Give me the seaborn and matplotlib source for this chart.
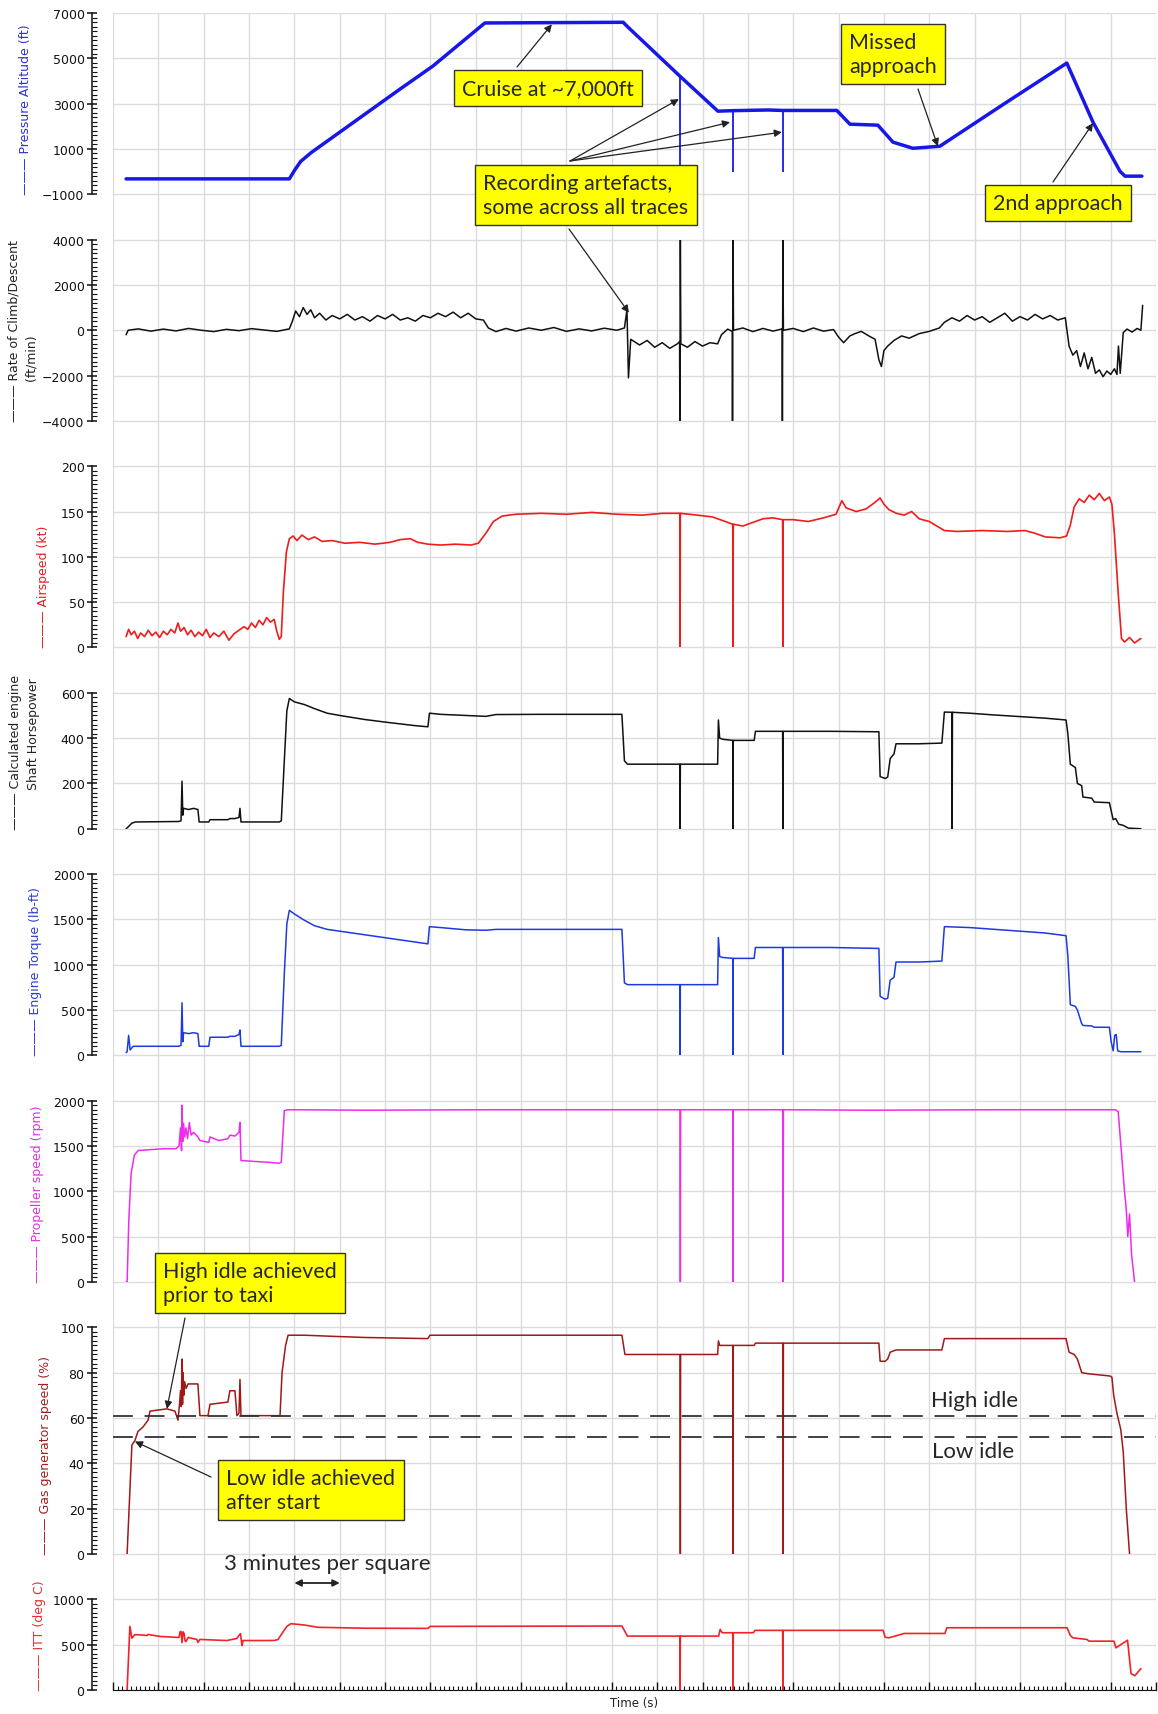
import numpy as np
import pandas as pd
import matplotlib
matplotlib.use("Agg")
import matplotlib.pyplot as plt
from matplotlib.ticker import AutoMinorLocator
import seaborn as sns

# Flight data traces, (time s, value)
altitude = [(52, -320), (700, -320), (723, 100), (745, 450), (788, 850), (1139, 3640), (1270, 4660),
            (1476, 6560), (2025, 6590), (2040, 6420), (2250, 4215), (2401, 2668),
            (2460, 2690), (2600, 2720), (2658, 2700),
            (2873, 2700), (2925, 2094), (3036, 2050), (3096, 1300), (3175, 1030), (3282, 1120),
            (3548, 3070), (3786, 4790), (3890, 2180), (3997, 17), (4017, -200), (4084, -200)]
# recording artefacts on the altitude trace: (time, bottom, top)
altitude_artefacts = [(2251, 0, 4215), (2460, 0, 2690), (2659, 0, 2700)]

climb_rate = [(52, -200), (60, 0), (100, 60), (150, -40), (200, 50), (250, -30), (300, 80), (350, 0),
              (400, -60), (450, 40), (500, -20), (550, 70), (600, 10), (650, -50), (700, 60),
              (712, 400), (725, 850), (740, 600), (755, 1000), (770, 700), (785, 900), (800, 550),
              (820, 750), (845, 450), (870, 650), (900, 500), (930, 700), (960, 450), (990, 600),
              (1020, 400), (1050, 650), (1080, 500), (1110, 700), (1140, 450), (1170, 550), (1200, 400),
              (1230, 650), (1260, 550), (1290, 750), (1320, 600), (1350, 800), (1380, 550), (1410, 750),
              (1440, 500), (1470, 450), (1490, 100), (1520, -60), (1560, 80), (1600, -40), (1650, 100),
              (1700, 0), (1750, 120), (1800, -50), (1850, 60), (1900, -30), (1950, 90), (2000, 0),
              (2030, 100), (2040, 900), (2046, -2100), (2055, -400), (2090, -650), (2120, -450),
              (2150, -750), (2180, -550), (2210, -800), (2240, -600), (2249, -500), (2250, -4000),
              (2252, 4000), (2254, -600), (2280, -750), (2310, -500), (2340, -700), (2370, -550),
              (2400, -600), (2415, -200), (2440, 50), (2458, -50), (2459, -4000), (2461, 4000), (2463, 0),
              (2500, 100), (2540, -60), (2580, 80), (2620, -40), (2656, 60), (2657, -4000), (2659, 4000),
              (2661, 0), (2700, 80), (2740, -60), (2780, 100), (2820, -40), (2860, 30), (2880, -300),
              (2900, -550), (2925, -250), (2945, -150), (2970, -50), (3000, -250), (3025, -400),
              (3040, -1300), (3050, -1600), (3060, -900), (3075, -700), (3100, -450), (3130, -250),
              (3160, -350), (3200, -150), (3240, -50), (3280, 100), (3300, 350), (3330, 550), (3360, 400),
              (3390, 650), (3420, 450), (3450, 600), (3480, 350), (3510, 550), (3540, 750), (3570, 400),
              (3600, 600), (3630, 450), (3660, 700), (3690, 500), (3720, 650), (3750, 450), (3780, 550),
              (3795, -700), (3810, -1100), (3825, -900), (3840, -1600), (3855, -1000), (3870, -1700),
              (3885, -1200), (3900, -1900), (3915, -1750), (3930, -2050), (3945, -1800), (3960, -1950),
              (3975, -1700), (3985, -1950), (3991, -700), (3998, -1900), (4010, -100), (4025, 50),
              (4045, -80), (4065, 80), (4080, 0), (4087, 1100)]

airspeed = [(52, 12), (62, 20), (72, 14), (85, 18), (98, 10), (110, 16), (125, 12), (140, 19), (155, 13),
            (170, 17), (185, 11), (200, 18), (215, 14), (230, 20), (245, 16), (258, 27), (268, 18),
            (282, 22), (296, 14), (310, 19), (325, 12), (340, 17), (355, 13), (370, 20), (385, 11),
            (400, 16), (420, 12), (440, 18), (460, 8), (480, 15), (500, 19), (520, 23), (535, 20),
            (550, 27), (565, 22), (580, 30), (595, 25), (610, 33), (625, 28), (640, 31), (650, 18),
            (660, 9), (668, 12), (676, 60), (688, 105), (700, 120), (715, 123), (730, 118), (750, 124),
            (775, 119), (800, 122), (830, 117), (870, 118), (920, 115), (980, 116), (1040, 114),
            (1100, 116), (1140, 119), (1180, 120), (1210, 116), (1250, 114), (1300, 113), (1360, 114),
            (1420, 113), (1450, 115), (1480, 126), (1510, 139), (1545, 145), (1600, 147), (1700, 148),
            (1800, 147), (1900, 149), (2000, 147), (2100, 146), (2180, 148), (2250, 148), (2251, 0),
            (2252, 148), (2320, 146), (2380, 144), (2420, 140), (2460, 136), (2461, 0), (2462, 136),
            (2500, 134), (2540, 138), (2580, 142), (2620, 143), (2658, 141), (2659, 0), (2660, 141),
            (2700, 141), (2760, 139), (2820, 143), (2870, 147), (2893, 162), (2910, 154), (2950, 150),
            (2990, 153), (3024, 160), (3045, 165), (3060, 158), (3080, 152), (3110, 148), (3140, 146),
            (3170, 150), (3200, 142), (3240, 139), (3270, 134), (3300, 129), (3350, 128), (3450, 129),
            (3550, 128), (3620, 129), (3660, 126), (3700, 122), (3760, 121), (3785, 123), (3800, 135),
            (3815, 155), (3835, 164), (3855, 160), (3875, 168), (3895, 163), (3915, 170), (3935, 162),
            (3955, 166), (3965, 158), (3975, 125), (3990, 60), (4003, 10), (4015, 6), (4035, 11),
            (4055, 5), (4080, 10)]

shaft_hp = [(52, 0), (62, 10), (75, 25), (90, 30), (260, 32), (270, 35), (274, 210), (277, 60), (280, 90),
            (300, 85), (320, 90), (337, 85), (342, 30), (380, 30), (385, 40), (456, 40), (464, 45),
            (484, 45), (500, 50), (504, 90), (508, 30), (660, 30), (668, 35), (680, 300), (690, 520),
            (700, 575), (720, 560), (760, 548), (800, 530), (850, 510), (900, 500), (1000, 482),
            (1100, 468), (1200, 455), (1250, 450), (1256, 510), (1300, 505), (1400, 500), (1480, 496),
            (1520, 504), (1700, 505), (1900, 505), (2020, 505), (2030, 300), (2042, 285), (2250, 285),
            (2251, 0), (2252, 285), (2400, 285), (2403, 480), (2408, 400), (2420, 395), (2460, 390),
            (2461, 0), (2462, 390), (2545, 390), (2550, 430), (2658, 430), (2659, 0), (2660, 430),
            (2850, 430), (3040, 428), (3045, 230), (3065, 222), (3075, 228), (3085, 310), (3100, 330),
            (3108, 375), (3200, 375), (3290, 378), (3300, 515), (3330, 514), (3331, 0), (3332, 514),
            (3400, 510), (3500, 502), (3600, 495), (3700, 488), (3783, 480), (3790, 420), (3800, 285),
            (3820, 270), (3828, 200), (3845, 190), (3850, 140), (3885, 135), (3895, 118), (3955, 115),
            (3962, 80), (3970, 40), (3980, 45), (3992, 20), (4010, 15), (4030, 3), (4080, 0)]

torque = [(52, 30), (56, 40), (62, 220), (68, 60), (80, 100), (260, 100), (270, 110), (274, 580),
          (277, 150), (280, 250), (300, 240), (320, 250), (337, 240), (342, 100), (380, 100), (385, 200),
          (456, 200), (464, 210), (484, 210), (500, 230), (504, 280), (508, 100), (660, 100), (668, 110),
          (680, 900), (690, 1450), (700, 1600), (720, 1560), (760, 1490), (800, 1430), (850, 1390),
          (900, 1370), (1000, 1330), (1100, 1290), (1200, 1250), (1250, 1230), (1256, 1420), (1300, 1410),
          (1400, 1385), (1480, 1380), (1520, 1390), (1800, 1390), (2020, 1390), (2030, 800), (2042, 780),
          (2250, 780), (2251, 0), (2252, 780), (2400, 780), (2403, 1300), (2408, 1090), (2420, 1080),
          (2460, 1070), (2461, 0), (2462, 1070), (2545, 1070), (2550, 1190), (2658, 1190), (2659, 0),
          (2660, 1190), (2850, 1190), (3040, 1180), (3045, 650), (3065, 620), (3075, 630), (3085, 830),
          (3100, 860), (3108, 1030), (3200, 1030), (3290, 1040), (3300, 1420), (3400, 1410), (3500, 1390),
          (3600, 1370), (3700, 1350), (3783, 1320), (3790, 1100), (3800, 560), (3820, 540), (3828, 500),
          (3845, 350), (3850, 330), (3885, 325), (3895, 310), (3955, 310), (3962, 150), (3970, 50),
          (3976, 220), (3982, 230), (3988, 50), (4000, 40), (4080, 40)]

prop_rpm = [(52, 0), (56, 0), (63, 700), (72, 1200), (85, 1400), (100, 1450), (150, 1460), (200, 1470),
            (250, 1470), (262, 1500), (268, 1700), (272, 1450), (274, 1950), (277, 1550), (280, 1750),
            (285, 1600), (290, 1700), (296, 1580), (303, 1760), (310, 1620), (320, 1650), (337, 1600),
            (345, 1560), (380, 1540), (385, 1600), (420, 1560), (456, 1580), (464, 1620), (484, 1610),
            (500, 1650), (504, 1760), (508, 1340), (560, 1330), (620, 1320), (660, 1310), (668, 1320),
            (680, 1890), (695, 1900), (1000, 1895), (1500, 1900), (2000, 1900), (2251, 1900), (2252, 0),
            (2253, 1900), (2460, 1900), (2461, 0), (2462, 1900), (2659, 1900), (2660, 0), (2661, 1900),
            (3000, 1895), (3500, 1900), (3978, 1900), (3990, 1880), (4015, 1000), (4022, 800), (4028, 500),
            (4035, 750), (4043, 300), (4055, 0)]

gas_gen = [(56, 0), (75, 48), (87, 50), (99, 54), (119, 56), (139, 59), (147, 63), (214, 64), (246, 63),
           (258, 59), (264, 66), (268, 72), (271, 65), (274, 86), (276, 66), (278, 80), (281, 70), (284, 76),
           (290, 73), (298, 75), (337, 75), (345, 61), (377, 61), (385, 66), (456, 67), (464, 72), (484, 72),
           (492, 61), (500, 62), (504, 77), (508, 61), (663, 61), (671, 80), (685, 92), (695, 96.5),
           (760, 96.5), (873, 96), (1000, 95.5), (1250, 95), (1258, 96.5), (1500, 96.5), (2020, 96.5),
           (2032, 88), (2251, 88), (2252, 0), (2253, 88), (2400, 88), (2403, 94), (2408, 92), (2460, 92),
           (2461, 0), (2462, 92), (2545, 92), (2550, 93), (2659, 93), (2660, 0), (2661, 93), (3040, 93),
           (3045, 85), (3065, 85), (3075, 86), (3085, 89), (3108, 90), (3290, 90), (3300, 95), (3783, 95),
           (3795, 89), (3815, 88), (3828, 86), (3845, 80), (3870, 79.5), (3957, 78.5), (3965, 78),
           (3972, 70), (3985, 62), (4000, 55), (4010, 45), (4022, 20), (4035, 0)]

itt = [(56, 0), (67, 700), (75, 570), (87, 610), (135, 600), (139, 611), (187, 589), (258, 578), (262, 580),
       (266, 640), (270, 644), (274, 520), (278, 640), (282, 622), (286, 540), (290, 533), (298, 578),
       (333, 556), (337, 522), (345, 556), (452, 544), (492, 567), (500, 600), (506, 620), (512, 489),
       (516, 544), (583, 544), (640, 545), (655, 555), (668, 610), (690, 700), (706, 730), (760, 715),
       (813, 690), (1000, 680), (1250, 678), (1259, 700), (2020, 704), (2042, 593), (2250, 593), (2251, 0),
       (2252, 593), (2404, 593), (2410, 667), (2418, 630), (2460, 630), (2461, 0), (2462, 630), (2542, 630),
       (2548, 656), (2658, 656), (2659, 0), (2660, 656), (3057, 656), (3065, 580), (3080, 574), (3100, 590),
       (3127, 611), (3140, 622), (3302, 622), (3310, 685), (3787, 685), (3800, 600), (3810, 574),
       (3866, 556), (3874, 537), (3973, 537), (3981, 463), (4027, 548), (4041, 178), (4056, 156),
       (4080, 233)]

high_idle = 61
low_idle = 51.5

sns.set_style("white")
plt.rcParams["font.family"] = ["DejaVu Sans"]

W, H = 1158, 1715
X0, X1 = 113, 1156
Y0, SQ = 14, 45.32
T_END = 4140
ANN_FONT = "Lato"

fig = plt.figure(figsize=(W / 100, H / 100), dpi=100)


def px_rect(r0, r1):
    top = Y0 + SQ * r0
    bot = Y0 + SQ * r1
    return [X0 / W, 1 - bot / H, (X1 - X0) / W, (bot - top) / H]


# background grid, one square = 3 minutes
bg = fig.add_axes(px_rect(0, 37))
bg.set_xlim(0, T_END)
bg.set_ylim(0, 37)
bg.set_xticks(np.arange(0, T_END + 1, 180))
bg.set_yticks(np.arange(0, 38))
bg.grid(True, color="#dcdcdc", lw=1)
bg.tick_params(length=0, labelbottom=False, labelleft=False)
for s in bg.spines.values():
    s.set_visible(False)

panels = [
    # data, rows, ylim, step, colour, lw, label, label colour, label x (px)
    (altitude, (0, 4), (-1000, 7000), 2000, "#1717e8", 2.5, "——— Pressure Altitude (ft)", "#3030d0", 25),
    (climb_rate, (5, 9), (-4000, 4000), 2000, "#111111", 1.1, "——— Rate of Climb/Descent\n          (ft/min)", "#222222", 23),
    (airspeed, (10, 14), (0, 200), 50, "#f01c1c", 1.2, "——— Airspeed (kt)", "#e02020", 44),
    (shaft_hp, (15, 18), (0, 600), 200, "#111111", 1.1, "——— Calculated engine\n          Shaft Horsepower", "#222222", 25),
    (torque, (19, 23), (0, 2000), 500, "#1d3ae0", 1.1, "——— Engine Torque (lb-ft)", "#2a3fd0", 36),
    (prop_rpm, (24, 28), (0, 2000), 500, "#ee2cee", 1.1, "——— Propeller speed (rpm)", "#e030e0", 37),
    (gas_gen, (29, 34), (0, 100), 20, "#a01818", 1.1, "——— Gas generator speed (%)", "#a02020", 46),
    (itt, (35, 37), (0, 1000), 500, "#f02428", 1.2, "——— ITT (deg C)", "#e83030", 40),
]

axes = []
for data, (r0, r1), (lo, hi), step, color, lw, label, lcolor, lx in panels:
    ax = fig.add_axes(px_rect(r0, r1), facecolor="none")
    df = pd.DataFrame(data, columns=["t", "v"])
    sns.lineplot(data=df, x="t", y="v", ax=ax, color=color, lw=lw, estimator=None, sort=False)
    ax.set_xlim(0, T_END)
    ax.set_ylim(lo, hi)
    ax.set_yticks(np.arange(lo, hi + step / 2, step))
    ax.yaxis.set_minor_locator(AutoMinorLocator(10))
    ax.set_xticks([])
    for s in ("top", "right", "bottom"):
        ax.spines[s].set_visible(False)
    ax.spines["left"].set_position(("outward", 15))
    ax.spines["left"].set_linewidth(1.1)
    ax.spines["left"].set_color("#111111")
    ax.tick_params(axis="y", which="major", left=True, direction="inout", length=7, width=1.1,
                   labelsize=9, pad=2, colors="#111111")
    ax.tick_params(axis="y", which="minor", left=True, direction="in", length=3.5, width=0.8,
                   colors="#111111")
    ax.set_xlabel("")
    ax.set_ylabel(label, color=lcolor, fontsize=9, ha="left", va="center",
                  multialignment="left", linespacing=1.5)
    ax.yaxis.set_label_coords((lx - X0) / (X1 - X0), 0)
    axes.append(ax)

ax_alt, ax_roc, ax_ias, ax_shp, ax_trq, ax_prop, ax_ng, ax_itt = axes

# thin artefact spikes on the altitude trace
art = pd.DataFrame(altitude_artefacts, columns=["t", "lo", "hi"])
ax_alt.vlines(art["t"], art["lo"], art["hi"], color="#1717e8", lw=1.3)

# time axis on the bottom panel only
ax_itt.spines["bottom"].set_visible(True)
ax_itt.spines["bottom"].set_color("#111111")
ax_itt.set_xticks(np.arange(0, T_END + 1, 180))
ax_itt.xaxis.set_minor_locator(AutoMinorLocator(10))
ax_itt.tick_params(axis="x", which="major", bottom=True, direction="in", length=6, width=1,
                   labelbottom=False, colors="#111111")
ax_itt.tick_params(axis="x", which="minor", bottom=True, direction="in", length=3, width=0.8,
                   colors="#111111")
fig.text(634 / W, 1 - 1704 / H, "Time (s)", ha="center", va="center", fontsize=8.5, color="#222222")

# idle reference lines
for lvl in (high_idle, low_idle):
    ax_ng.axhline(lvl, color="#333333", lw=1.3, ls=(0, (11, 6.5)))
fig.text(931 / W, 1 - 1401 / H, "High idle", ha="left", va="center", fontsize=16, family=ANN_FONT)
fig.text(932 / W, 1 - 1452 / H, "Low idle", ha="left", va="center", fontsize=16, family=ANN_FONT)

# call-out boxes
box = dict(boxstyle="square,pad=0.38", fc="#ffff00", ec="#333333", lw=1)
callouts = [
    ("Cruise at ~7,000ft", 548, 89),
    ("Recording artefacts,\nsome across all traces", 586, 196),
    ("Missed\napproach", 893, 55),
    ("2nd approach", 1058, 204),
    ("High idle achieved\nprior to taxi", 250, 1284),
    ("Low idle achieved\nafter start", 311, 1491),
]
for txt, x, y in callouts:
    fig.text(x / W, 1 - y / H, txt, ha="center", va="center", multialignment="left",
             fontsize=15.5, family=ANN_FONT, linespacing=1.25, bbox=box, zorder=10)

arrows = [
    (ax_alt, (1742, 6500), (517, 68)),
    (ax_alt, (2246, 3199), (570, 162)),
    (ax_alt, (2449, 2182), (570, 162)),
    (ax_alt, (2655, 1740), (570, 162)),
    (ax_roc, (2048, 770), (569, 230)),
    (ax_alt, (3274, 1120), (918, 90)),
    (ax_alt, (3890, 2140), (1053, 183)),
    (ax_ng, (214, 64), (185, 1319)),
    (ax_ng, (87, 49.6), (211, 1478)),
]
for ax, head, (x, y) in arrows:
    ax.annotate("", xy=head, xycoords="data", xytext=(x, H - y), textcoords="figure pixels",
                arrowprops=dict(arrowstyle="-|>", color="#222222", lw=0.9, mutation_scale=11,
                                shrinkA=0, shrinkB=0))

# scale hint
fig.text(224 / W, 1 - 1564 / H, "3 minutes per square", ha="left", va="center", fontsize=16,
         family=ANN_FONT)
ax_itt.annotate("", xy=(720, H - 1584), xycoords=("data", "figure pixels"),
                xytext=(900, H - 1584), textcoords=("data", "figure pixels"),
                arrowprops=dict(arrowstyle="<|-|>", color="#222222", lw=1.3, mutation_scale=10,
                                shrinkA=0, shrinkB=0))

fig.savefig("out.png", dpi=100)
